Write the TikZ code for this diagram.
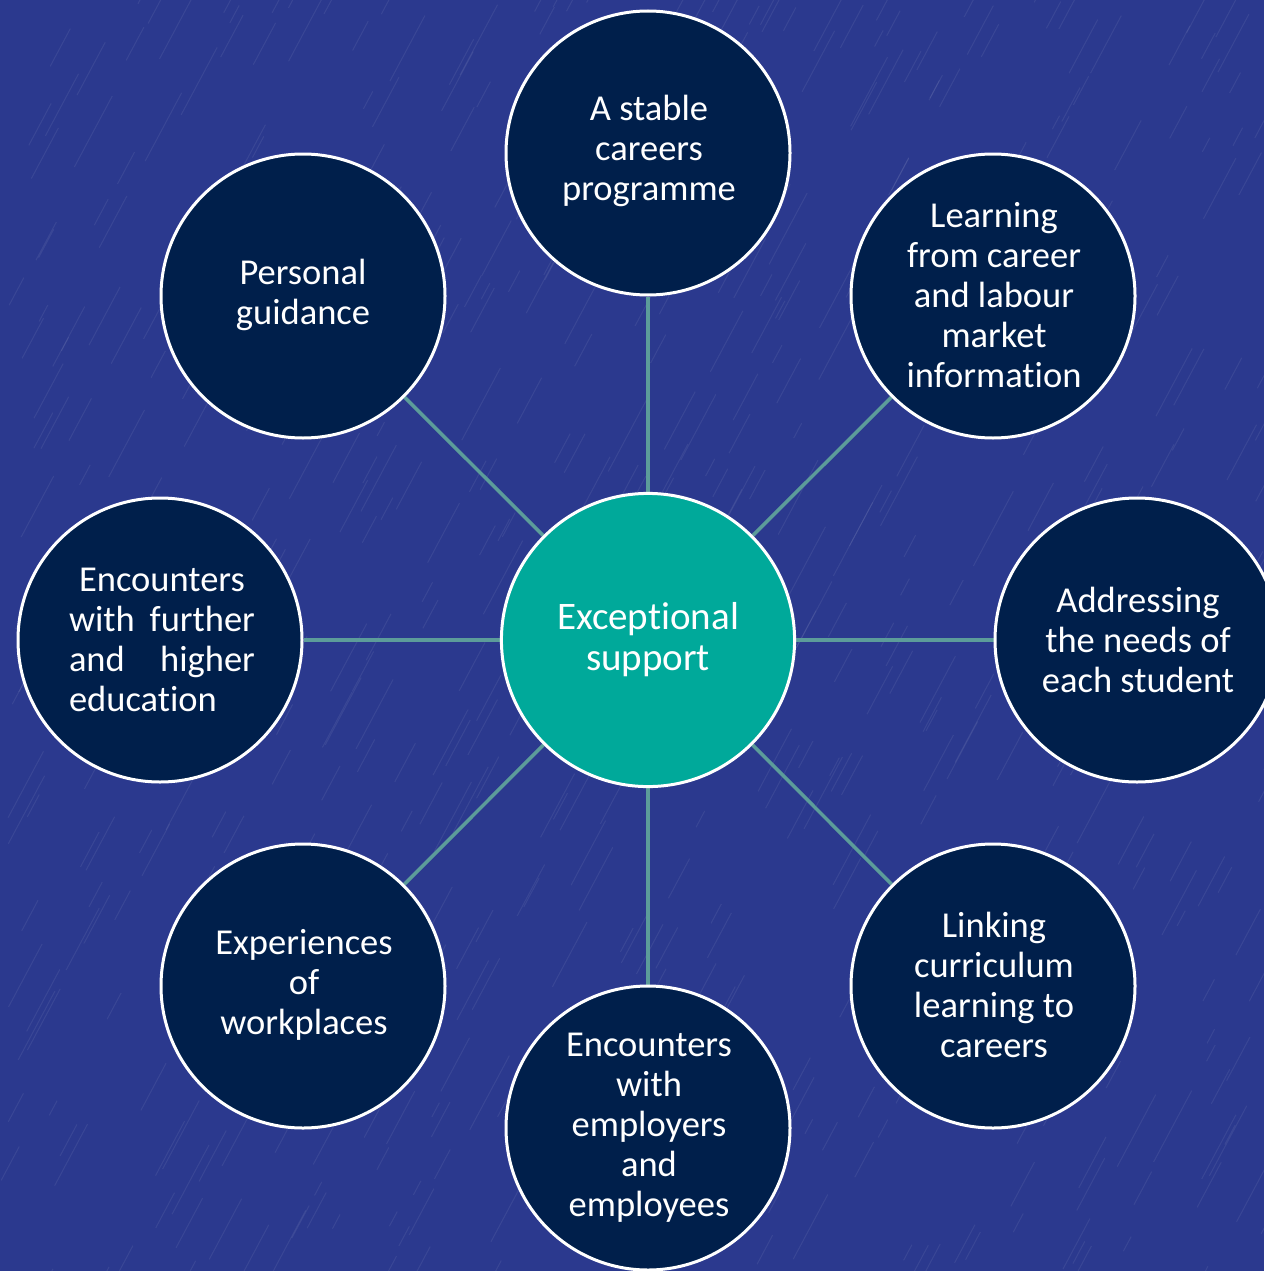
\documentclass[tikz,border=0pt]{standalone}
\usepackage{fontspec}
\setmainfont[Ligatures=NoCommon]{Carlito}
\pgfdeclarelayer{bg}
\pgfsetlayers{bg,main}
\definecolor{bgblue}{HTML}{2B398E}
\definecolor{navy}{HTML}{001F4B}
\definecolor{tealc}{HTML}{00A99A}
\definecolor{linkc}{HTML}{5C9C9A}
\tikzset{
  outer/.style={circle, draw=white, line width=3pt, fill=navy, minimum size=284pt, inner sep=0pt,
    text=white, align=center, font=\fontsize{36.5pt}{40pt}\selectfont},
  hub/.style={circle, draw=white, line width=3pt, fill=tealc, minimum size=284pt, inner sep=0pt,
    text=white, align=center, font=\fontsize{39pt}{41pt}\selectfont},
  link/.style={draw=linkc, line width=3.5pt},
  streak/.style={white, opacity=0.07, line width=1pt}
}
\begin{document}
\begin{tikzpicture}[x=1pt,y=-1pt]
\useasboundingbox (0,0) rectangle (1264,1271);
\node[hub] (c) at (648,640) {\raisebox{4pt}{\parbox{284pt}{\centering Exceptional\\support}}};
\node[outer] (t) at (648,153) {};
\node[outer] (ur) at (993,296) {};
\node[outer] (r) at (1137,640) {};
\node[outer] (lr) at (993,986) {};
\node[outer] (b) at (648,1128) {};
\node[outer] (ll) at (303,986) {};
\node[outer] (l) at (160,640) {};
\node[outer] (ul) at (303,296) {};
\tikzset{lbl/.style={text=white, align=center, font=\fontsize{36.5pt}{40pt}\selectfont, inner sep=0pt}}
\node[lbl] (tt) at (649,151) {A stable\\careers\\programme};
\node[lbl] (urt) at (994,295) {Learning\\from career\\and labour\\market\\information};
\node[lbl] (rt) at (1138,640) {Addressing\\the needs of\\each student};
\node[lbl] (lrt) at (994,985) {Linking\\curriculum\\learning to\\careers};
\node[lbl] (bt) at (649,1128) {Encounters\\with\\employers\\and\\employees};
\node[lbl] (llt) at (304,985) {Experiences\\of\\workplaces};
\node[lbl, align=left] (lt) at (162,640) {\makebox[186pt][c]{Encounters}\\\makebox[186pt][s]{with further}\\\makebox[186pt][s]{and\hfill higher}\\\makebox[186pt][l]{education}};
\node[lbl] (ult) at (303,295) {Personal\\guidance};
\begin{pgfonlayer}{bg}
\fill[bgblue] (0,0) rectangle (1264,1271);
\pgfmathsetseed{11}
\foreach \i in {1,...,700}{
  \pgfmathsetmacro{\px}{rnd*1400}
  \pgfmathsetmacro{\py}{rnd*1350}
  \pgfmathsetmacro{\ln}{15+rnd*70}
  \draw[streak] (\px,\py) -- ++({0.47*\ln},{-0.88*\ln});
}
\draw[link] (c) -- (t);
\draw[link] (c) -- (ur);
\draw[link] (c) -- (r);
\draw[link] (c) -- (lr);
\draw[link] (c) -- (b);
\draw[link] (c) -- (ll);
\draw[link] (c) -- (l);
\draw[link] (c) -- (ul);
\end{pgfonlayer}
\end{tikzpicture}
\end{document}
